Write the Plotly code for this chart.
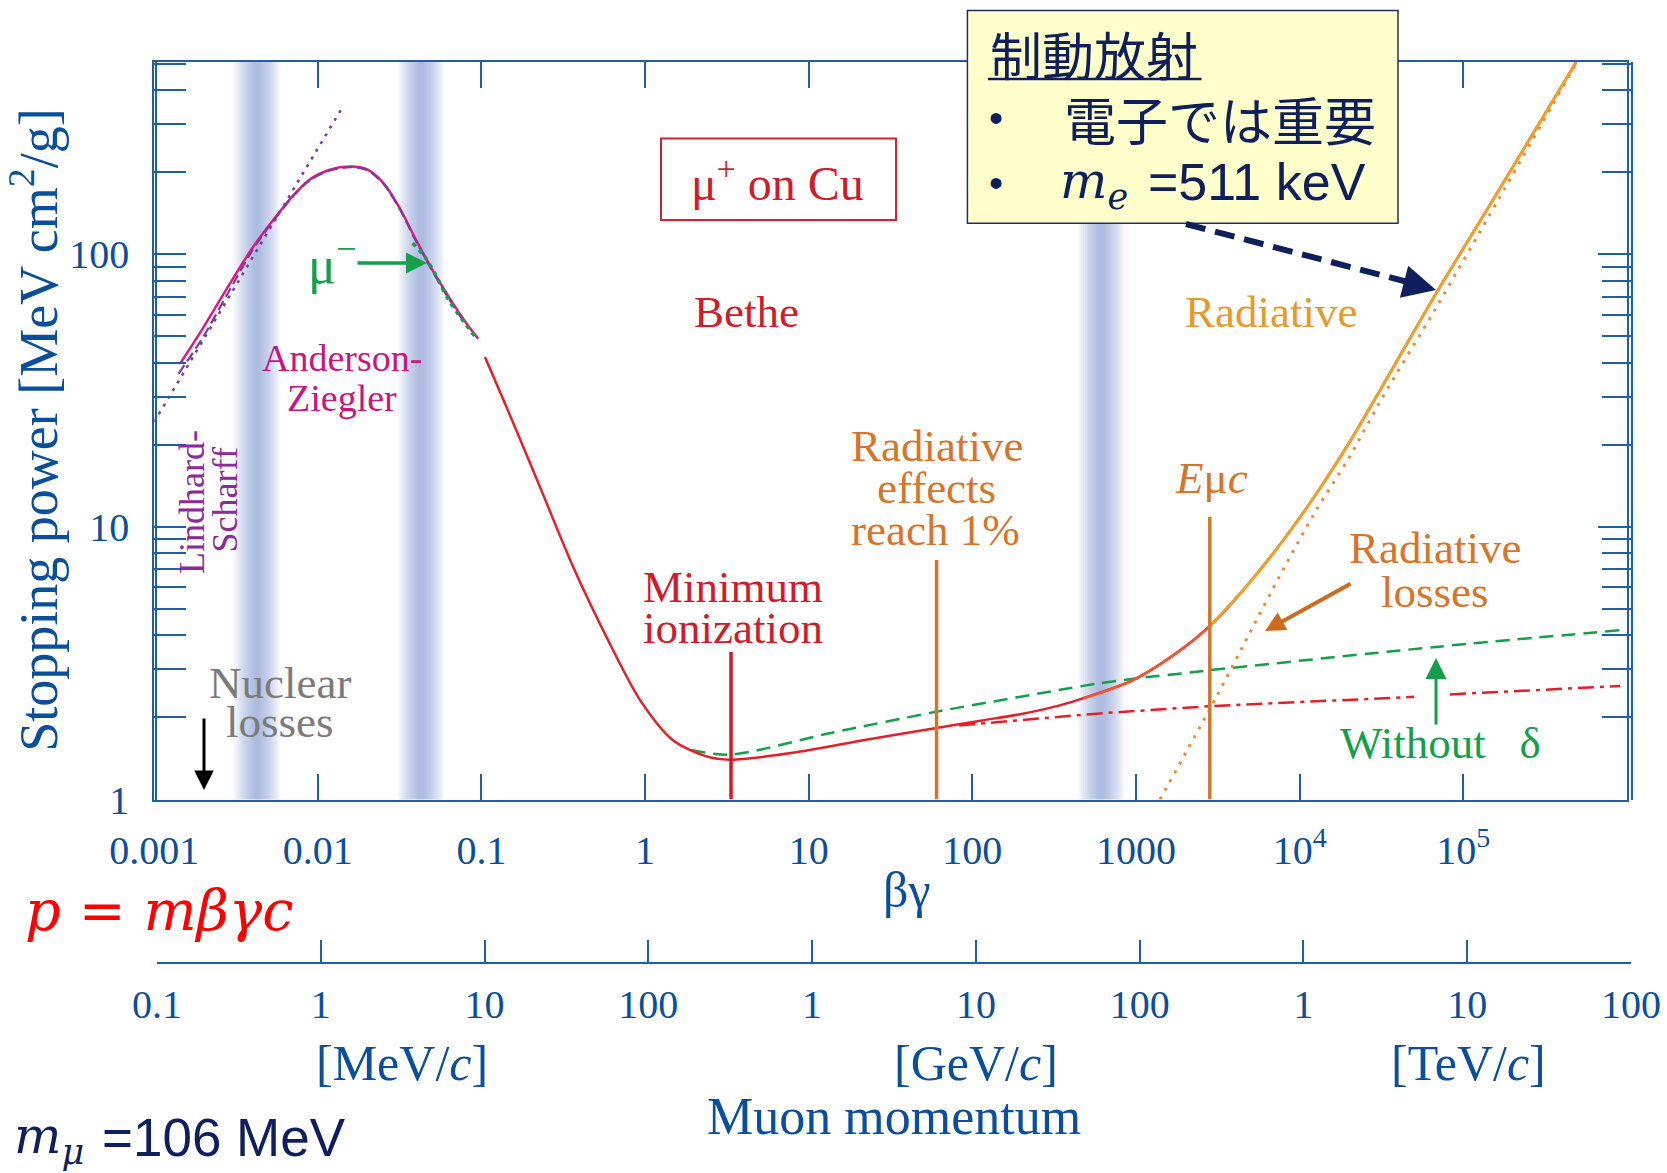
import plotly.graph_objects as go

# ---------------- data: muon (mu+) stopping power in copper ----------------
# beta*gamma values and stopping power [MeV cm^2/g]

# Anderson-Ziegler region
az_bg = [0.00145, 0.0020, 0.00282, 0.0040, 0.00525, 0.0071, 0.0089, 0.0117, 0.0158,
         0.020, 0.0251, 0.0316, 0.0398, 0.050, 0.063, 0.079, 0.0955]
az_dedx = [40, 54, 76, 106, 132, 165, 188, 204, 210, 205, 183, 148, 113, 88, 70, 57, 49]

# Lindhard-Scharff curve and its low-energy asymptote
ls_bg = [0.00141, 0.0020, 0.00282, 0.0040, 0.00525, 0.0071, 0.0089, 0.0117, 0.0158,
         0.020, 0.0251, 0.0316, 0.0398, 0.050, 0.063, 0.079]
ls_dedx = [36.5, 50, 72, 104, 131, 164, 187, 203, 209, 204, 182, 147, 112, 87, 69, 56]
ls_asym_bg = [0.001, 0.0138]
ls_asym_dedx = [24.3, 338]

# mu- (Barkas effect)
mu_minus_bg = [0.038, 0.045, 0.0525, 0.063, 0.079, 0.091]
mu_minus_dedx = [110, 98, 84, 68, 56, 50]

# Bethe + radiative total (solid)
total_bg = [0.105, 0.142, 0.228, 0.363, 0.58, 0.93, 1.48, 2.37, 3.3, 7.8, 22.9, 60.4,
            115, 200, 337, 474, 957, 1940, 2865, 4940, 7890, 12600, 20200, 32200,
            66400, 163000, 490000]
total_dedx = [42, 27.6, 14.0, 7.14, 3.95, 2.32, 1.65, 1.44, 1.40, 1.48, 1.66, 1.83,
              1.95, 2.06, 2.21, 2.35, 2.74, 3.59, 4.36, 6.25, 8.9, 13.2, 20.5, 33.0,
              70, 170, 508]

# Without density effect (delta)
nodelta_bg = [1.92, 3.3, 13.4, 60.4, 337, 600, 991, 2340, 2825, 68000, 910000]
nodelta_dedx = [1.52, 1.46, 1.75, 2.10, 2.52, 2.67, 2.78, 2.94, 2.98, 3.63, 4.18]

# Ionization part alone at high energy (dash-dot)
ion_bg = [83, 600, 2825, 50100, None, 83000, 910000]
ion_dedx = [1.87, 2.07, 2.20, 2.38, None, 2.43, 2.61]

# Radiative losses (dotted)
rad_bg = [1400, 3100, 4940, 7890, 12600, 20200, 32200, 66400, 163000, 495000]
rad_dedx = [1.0, 2.38, 4.07, 6.94, 11.5, 18.1, 30.0, 62, 158, 508]

# Markers: minimum ionization, radiative effects 1 %, critical energy E_muc
min_ion_bg, min_ion_top = 3.35, 3.48
rad1_bg, rad1_top = 60.4, 7.56
emuc_bg, emuc_top = 2825, 10.9

# Shaded transition bands
band_bg = [0.00425, 0.0428, 614]

# Axis ticks
bg_tickvals = [1e-3, 1e-2, 1e-1, 1, 10, 100, 1000, 1e4, 1e5]
bg_ticktext = ["0.001", "0.01", "0.1", "1", "10", "100", "1000",
               "10<sup>4</sup>", "10<sup>5</sup>"]
mom_tickvals = [0.1, 1, 10, 100, 1e3, 1e4, 1e5, 1e6, 1e7, 1e8]   # MeV/c
mom_ticktext = ["0.1", "1", "10", "100", "1", "10", "100", "1", "10", "100"]
y_tickvals = [1, 10, 100]
y_minor = [2, 3, 4, 5, 6, 7, 8, 9, 20, 30, 40, 50, 60, 70, 80, 90, 200, 300, 400, 500]

# ---------------- styling ----------------
W, H = 1667, 1173
PL, PR, PT, PB = 150, 1640, 62, 963          # plotting area in px
SERIF = "Liberation Serif, Times New Roman, serif"
SANS = "Liberation Sans, Arial, sans-serif"
MATH = "DejaVu Serif, serif"
CJK = "Noto Sans CJK JP, sans-serif"
AXIS = "#1f5fa6"
AXTXT = "#0b4f9c"
NAVY = "#0f1f5c"
RED = "#e41f2a"
TXTRED = "#cf1c2b"
GREEN = "#14a04b"
ORANGE = "#d6752a"
PINK = "#e5177f"
PURPLE = "#7d3a9a"


def fx(x):
    return (x - PL) / (PR - PL)


def fy(y):
    return (PB - y) / (PB - PT)


X_DOM = [fx(154.2), fx(1626.9)]
X2_DOM = [fx(157.0), fx(1631.0)]
Y_DOM = [fy(799.5), 1.0]
Y_MAX = 508.0

fig = go.Figure()

# soft vertical bands (stacked translucent strips give a gradient)
for c in band_bg:
    for k in range(10):
        hw = 10 ** (0.14 - 0.0135 * k)
        fig.add_trace(go.Scatter(
            x=[c / hw, c * hw, c * hw, c / hw, c / hw],
            y=[1, 1, Y_MAX, Y_MAX, 1], mode="lines", fill="toself",
            fillcolor="rgba(118,142,204,0.08)", line=dict(width=0),
            hoverinfo="skip", showlegend=False))


def curve(x, y, color, width=2.5, dash="solid", shape="spline"):
    fig.add_trace(go.Scatter(x=x, y=y, mode="lines",
                             line=dict(color=color, width=width, dash=dash, shape=shape,
                                       smoothing=0.8),
                             hoverinfo="skip", showlegend=False, connectgaps=False))


# low-energy curves
curve(ls_asym_bg, ls_asym_dedx, PURPLE, 2.5, "3px,6px", "linear")
curve(az_bg, az_dedx, PINK, 2.5)
curve(ls_bg, ls_dedx, PURPLE, 2.2, "10px,5px")
curve(mu_minus_bg, mu_minus_dedx, GREEN, 3.5, "4px,5px")

# high-energy reference curves
curve(nodelta_bg, nodelta_dedx, GREEN, 2.5, "14px,8px")
curve(ion_bg, ion_dedx, RED, 2.5, "16px,6px,4px,6px", "linear")
curve(rad_bg, rad_dedx, "#ef8a3c", 3, "3px,7px")

# total stopping power: one smooth curve, recoloured red -> orange at high energy
i1 = total_bg.index(474)
i2 = total_bg.index(2865)
curve(total_bg, total_dedx, RED, 2.5)
curve(total_bg[i1:i2 + 1], total_dedx[i1:i2 + 1], "#ef5530", 2.8)
curve(total_bg[i2:], total_dedx[i2:], "#f4a023", 2.8)

# marker lines
curve([min_ion_bg, min_ion_bg], [1, min_ion_top], "#d01a25", 3.5, "solid", "linear")
curve([rad1_bg, rad1_bg], [1, rad1_top], ORANGE, 3.5, "solid", "linear")
curve([emuc_bg, emuc_bg], [1, emuc_top], ORANGE, 3.5, "solid", "linear")

# invisible anchor for the momentum axis
fig.add_trace(go.Scatter(x=[1], y=[1], xaxis="x2", mode="markers",
                         marker=dict(opacity=0), hoverinfo="skip", showlegend=False))

ann = []


def label(text, x, y, size, color, family=SERIF, angle=0, xanchor="center"):
    ann.append(dict(text=text, x=fx(x), y=fy(y), xref="paper", yref="paper",
                    showarrow=False, xanchor=xanchor, yanchor="middle", textangle=angle,
                    font=dict(size=size, color=color, family=family)))


def arrow(xt, yt, xs, ys, color, width, size=1.0, head=2):
    ann.append(dict(text="", x=fx(xt), y=fy(yt), xref="paper", yref="paper",
                    ax=xs - xt, ay=ys - yt, showarrow=True, arrowhead=head,
                    arrowsize=size, arrowwidth=width, arrowcolor=color, standoff=0))


# axis titles
label("Stopping power [MeV cm<sup>2</sup>/g]", 35, 430.7, 54, AXTXT, angle=-90)
label("βγ", 907, 890, 50, AXTXT)
label("[MeV/<i>c</i>]", 402, 1063, 50, AXTXT)
label("[GeV/<i>c</i>]", 975.5, 1063, 50, AXTXT)
label("[TeV/<i>c</i>]", 1468, 1063, 50, AXTXT)
label("Muon momentum", 894, 1116, 52, AXTXT)

# in-plot labels
label("μ<sup>+</sup> on Cu", 777, 180, 48, TXTRED)
label("Bethe", 746.5, 312, 45, TXTRED)
label("Radiative", 1271, 312, 45, "#e59a2c")
label("Anderson-", 342, 357.5, 38, "#c8157f")
label("Ziegler", 342, 398.3, 38, "#c8157f")
label("Lindhard-", 191.5, 502.5, 36, "#8b2b99", angle=-90)
label("Scharff", 225.4, 500, 36, "#8b2b99", angle=-90)
label("Nuclear", 279.5, 682.5, 45, "#7b7b7b")
label("losses", 279.5, 722, 45, "#7b7b7b")
label("μ<sup>−</sup>", 332, 261, 52, GREEN)
label("Minimum", 733, 586.7, 45, TXTRED)
label("ionization", 733, 628.3, 45, TXTRED)
label("Radiative", 936.8, 445.8, 45, ORANGE)
label("effects", 936.8, 488, 45, ORANGE)
label("reach 1%", 936, 530, 45, ORANGE)
label("<i>E</i>μ<i>c</i>", 1211, 478, 45, ORANGE)
label("Radiative", 1434.5, 548.3, 45, ORANGE)
label("losses", 1434.5, 591.7, 45, ORANGE)
label("Without\u00a0\u00a0\u00a0δ", 1440, 743.3, 45, GREEN)

# arrows
arrow(427, 263, 356, 263, GREEN, 3.5, 1.2)
arrow(204, 790, 204, 717, "black", 3, 1.3)
arrow(1265, 631, 1352, 583, "#cd6b1e", 4, 1.0)
arrow(1436, 658, 1436, 726, GREEN, 3, 1.4)
arrow(1436, 290, 1413, 284, NAVY, 6, 1.1)

# formulas
label("<i>p</i> = <i>mβγc</i>", 159, 910, 56, "#ff0000", family=MATH)
label("<i>m</i><sub><i>μ</i></sub>", 12, 1139, 50, NAVY, family=MATH, xanchor="left")
label("=106 MeV", 100, 1137, 53, NAVY, family=SANS, xanchor="left")

# note box contents
label("制動放射", 988, 54, 52, NAVY, family=CJK, xanchor="left")
label("•", 996, 118, 40, NAVY, family=SANS)
label("電子では重要", 1062, 118, 52, NAVY, family=CJK, xanchor="left")
label("•", 996, 183, 40, NAVY, family=SANS)
label("<i>m</i><sub><i>e</i></sub>", 1058, 184, 50, NAVY, family=MATH, xanchor="left")
label("=511 keV", 1146, 181.5, 52, NAVY, family=SANS, xanchor="left")

shapes = [
    # note box
    dict(type="rect", xref="paper", yref="paper", x0=fx(967.4), x1=fx(1398),
         y0=fy(223.3), y1=fy(10.6), fillcolor="#ffffcc",
         line=dict(color="#233064", width=1.5), layer="above"),
    dict(type="line", xref="paper", yref="paper", x0=fx(988), x1=fx(1201.5),
         y0=fy(79), y1=fy(79), line=dict(color=NAVY, width=2.5), layer="above"),
    # dashed pointer from the note box
    dict(type="line", xref="paper", yref="paper", x0=fx(1186), x1=fx(1419),
         y0=fy(224), y1=fy(285), line=dict(color=NAVY, width=6, dash="20px,10px"),
         layer="above"),
    # frame around the "mu+ on Cu" label
    dict(type="rect", xref="paper", yref="paper", x0=fx(661), x1=fx(896),
         y0=fy(220), y1=fy(138.5), line=dict(color="#d42030", width=2), layer="above"),
]

axis_common = dict(type="log", showline=True, linecolor=AXIS, linewidth=2,
                   showgrid=False, zeroline=False, ticks="inside", tickcolor=AXIS,
                   tickwidth=2, ticklen=26, automargin=False,
                   tickfont=dict(family=SERIF, size=40, color=AXTXT))

fig.update_layout(
    width=W, height=H,
    margin=dict(l=PL, r=W - PR, t=PT, b=H - PB, pad=0),
    paper_bgcolor="white", plot_bgcolor="rgba(0,0,0,0)",
    showlegend=False,
    xaxis=dict(**axis_common, domain=X_DOM, range=[-3, 6], anchor="y",
               mirror="allticks", tickmode="array", tickvals=bg_tickvals,
               ticktext=bg_ticktext, ticklabelstandoff=14),
    xaxis2=dict(**axis_common, domain=X2_DOM, range=[-1, 8], anchor="free",
                position=0, side="bottom", tickmode="array", tickvals=mom_tickvals,
                ticktext=mom_ticktext, ticklabelstandoff=6),
    yaxis=dict(**axis_common, domain=Y_DOM, range=[0, 2.7059], anchor="x",
               mirror="allticks", tickmode="array", tickvals=y_tickvals,
               ticktext=["1", "10", "100"], ticklabelstandoff=15,
               minor=dict(tickmode="array", tickvals=y_minor, ticks="inside",
                          ticklen=15, tickwidth=2, tickcolor=AXIS)),
    annotations=ann,
    shapes=shapes,
)
fig.update_yaxes(ticklen=29)
fig.update_xaxes(ticklen=22, selector=dict(anchor="free"))

fig.write_html("out.html")
